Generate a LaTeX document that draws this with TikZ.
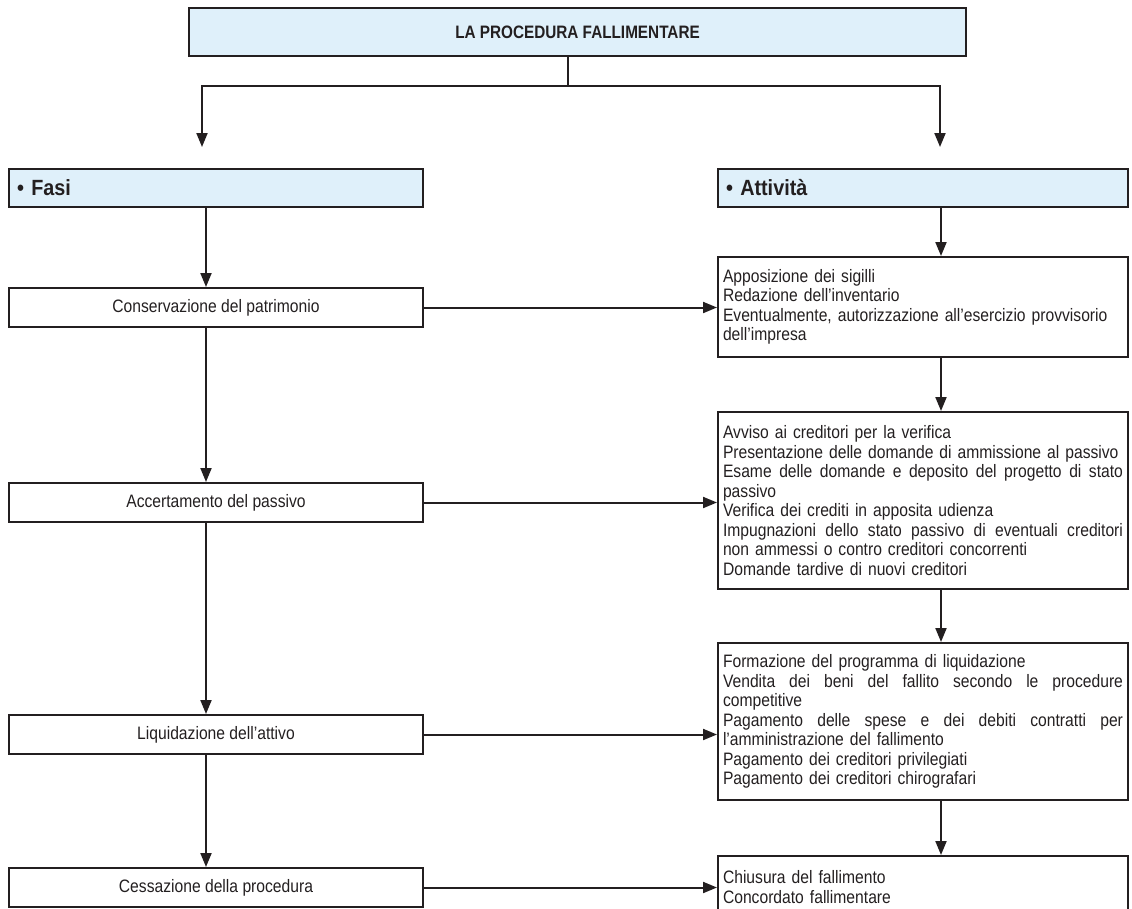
\documentclass[tikz,border=0pt]{standalone}
\usepackage{fontspec}
\setmainfont{Liberation Sans}[FakeStretch=0.87]
\newfontfamily\titlefont{Liberation Sans}[FakeStretch=0.85]
\newfontfamily\hdrfont{Liberation Sans}[FakeStretch=0.9]
\usetikzlibrary{arrows.meta,calc}
\definecolor{ink}{HTML}{231F20}
\definecolor{hdrfill}{HTML}{DFF0FA}
\newlength\jw
\setlength\jw{400pt}
\newcommand\jl[1]{\makebox[\jw][s]{\spaceskip=0.25em plus 3em\relax\xspaceskip=0pt\relax #1}}
\begin{document}
\begin{tikzpicture}[x=1pt,y=-1pt,
  box/.style={draw=ink, line width=2pt, rectangle, inner sep=0pt, text=ink,
    font=\fontsize{18}{19.5}\selectfont},
  leftbox/.style={box, minimum width=414pt, minimum height=39pt},
  hdr/.style={box, fill=hdrfill, minimum height=38pt, inner xsep=8pt, align=left,
    font=\hdrfont\bfseries\fontsize{22}{24}\selectfont},
  actbox/.style={box, text width=400pt, inner xsep=5pt, inner ysep=0pt, align=left},
  conn/.style={draw=ink, line width=2pt},
  arr/.style={conn, -{Triangle[length=14pt,width=11pt]}},
]
\clip (0,0) rectangle (1132,908);
% title
\node[box, fill=hdrfill, minimum width=777pt, minimum height=48pt,
  font=\titlefont\bfseries\fontsize{18}{20}\selectfont] (title) at (577.5,32) {LA PROCEDURA FALLIMENTARE};
% headers
\node[hdr, text width=398pt] (fasi) at (216,188) {• Fasi};
\node[hdr, text width=394pt] (act) at (923,188) {• Attività};
% left column
\node[leftbox] (cons) at (216,307.5) {Conservazione del patrimonio};
\node[leftbox] (acc) at (216,502.5) {Accertamento del passivo};
\node[leftbox] (liq) at (216,734.5) {Liquidazione dell’attivo};
\node[leftbox] (cess) at (216,887.5) {Cessazione della procedura};
% right column
\node[actbox, minimum height=100pt] (b1) at (923,307) {Apposizione dei sigilli\\
Redazione dell’inventario\\
\mbox{Eventualmente, autorizzazione all’esercizio provvisorio}\\
dell’impresa};
\node[actbox, minimum height=177pt] (b2) at (923,500.5) {Avviso ai creditori per la verifica\\
\mbox{Presentazione delle domande di ammissione al passivo}\\
\jl{Esame delle domande e deposito del progetto di stato}\\
passivo\\
Verifica dei crediti in apposita udienza\\
\jl{Impugnazioni dello stato passivo di eventuali creditori}\\
non ammessi o contro creditori concorrenti\\
Domande tardive di nuovi creditori};
\node[actbox, minimum height=157pt] (b3) at (923,721.5) {Formazione del programma di liquidazione\\
\jl{Vendita dei beni del fallito secondo le procedure}\\
competitive\\
\jl{Pagamento delle spese e dei debiti contratti per}\\
l’amministrazione del fallimento\\
Pagamento dei creditori privilegiati\\
Pagamento dei creditori chirografari};
\node[actbox, minimum height=62pt] (b4) at (923,887) {Chiusura del fallimento\\
Concordato fallimentare};
% top connectors
\coordinate (split) at (568,86);
\draw[conn] ([xshift=-9.5pt]title.south) -- (split);
\draw[arr, shorten >=21pt] (split) -| ([xshift=-14pt]fasi.north);
\draw[arr, shorten >=21pt] (split) -| ([xshift=17pt]act.north);
% left vertical
\draw[arr] ([xshift=-10pt]fasi.south) -- ([xshift=-10pt]cons.north);
\draw[arr] ([xshift=-10pt]cons.south) -- ([xshift=-10pt]acc.north);
\draw[arr] ([xshift=-10pt]acc.south) -- ([xshift=-10pt]liq.north);
\draw[arr] ([xshift=-10pt]liq.south) -- ([xshift=-10pt]cess.north);
% right vertical
\draw[arr] ([xshift=18pt]act.south) -- ([xshift=18pt]b1.north);
\draw[arr] ([xshift=18pt]b1.south) -- ([xshift=18pt]b2.north);
\draw[arr] ([xshift=18pt]b2.south) -- ([xshift=18pt]b3.north);
\draw[arr] ([xshift=18pt]b3.south) -- ([xshift=18pt]b4.north);
% horizontal
\draw[arr] (cons.east) -- (cons.east -| b1.west);
\draw[arr] (acc.east) -- (acc.east -| b2.west);
\draw[arr] (liq.east) -- (liq.east -| b3.west);
\draw[arr] (cess.east) -- (cess.east -| b4.west);
\end{tikzpicture}
\end{document}
